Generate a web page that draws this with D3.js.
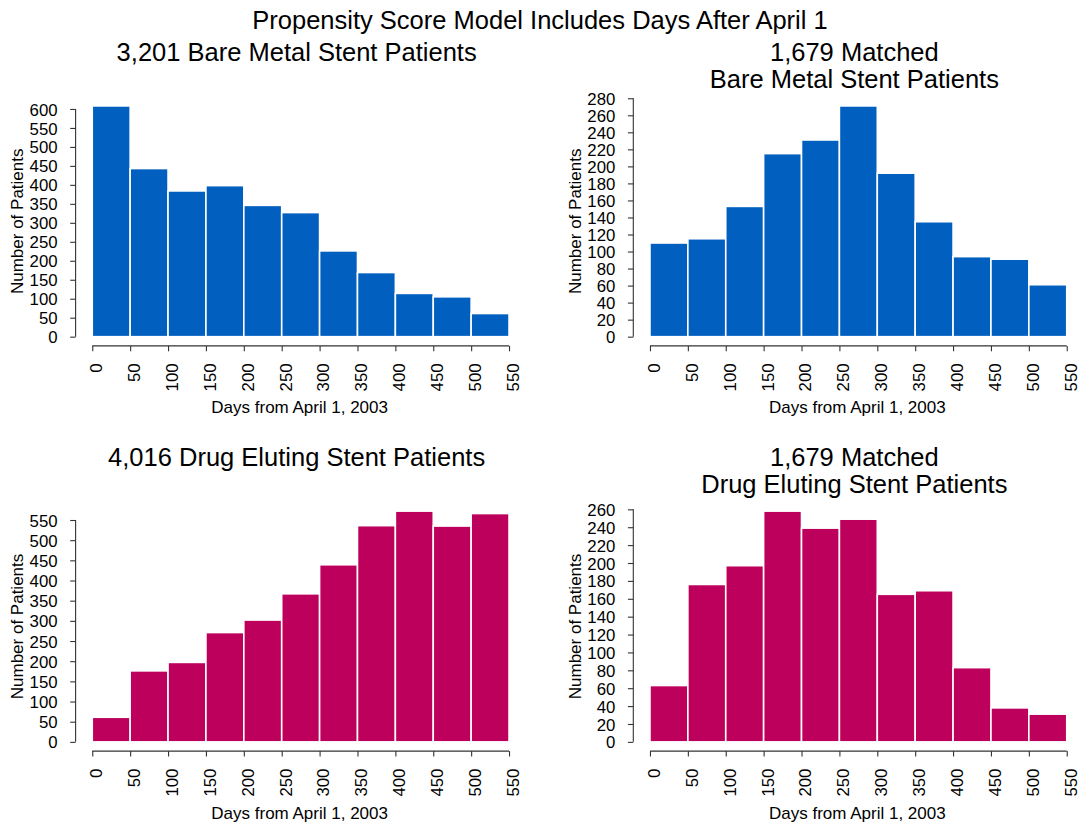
<!DOCTYPE html>
<html><head><meta charset="utf-8">
<script src="https://cdn.jsdelivr.net/npm/d3@7/dist/d3.min.js"></script>
<style>
body{margin:0;background:#fff}
svg{display:block;font-family:"Liberation Sans",Arial,Helvetica,sans-serif}
</style>
</head><body>
<svg id="chart" width="1080" height="826"></svg>
<script>
// ---- data ----
const binEdges = [0, 50, 100, 150, 200, 250, 300, 350, 400, 450, 500, 550];
const bareMetalAll = [608, 443, 384, 398, 346, 327, 226, 169, 114, 105, 61];
const bareMetalMatched = [110, 115, 153, 215, 231, 271, 192, 135, 94, 91, 61];
const drugElutingAll = [61, 176, 197, 271, 302, 367, 439, 536, 572, 535, 566];
const drugElutingMatched = [63, 176, 197, 258, 239, 249, 165, 169, 83, 38, 31];

const xTickLabels = [0, 50, 100, 150, 200, 250, 300, 350, 400, 450, 500, 550];
const yTicksBareAll = [0, 50, 100, 150, 200, 250, 300, 350, 400, 450, 500, 550, 600];
const yTicksBareMatched = [0, 20, 40, 60, 80, 100, 120, 140, 160, 180, 200, 220, 240, 260, 280];
const yTicksDrugAll = [0, 50, 100, 150, 200, 250, 300, 350, 400, 450, 500, 550];
const yTicksDrugMatched = [0, 20, 40, 60, 80, 100, 120, 140, 160, 180, 200, 220, 240, 260];

const mainTitle = "Propensity Score Model Includes Days After April 1";
const titleBareAll = ["3,201 Bare Metal Stent Patients"];
const titleBareMatched = ["1,679 Matched", "Bare Metal Stent Patients"];
const titleDrugAll = ["4,016 Drug Eluting Stent Patients"];
const titleDrugMatched = ["1,679 Matched", "Drug Eluting Stent Patients"];
const xAxisTitle = "Days from April 1, 2003";
const yAxisTitle = "Number of Patients";

// ---- layout ----
const BLUE = "#005FBF", MAGENTA = "#BE005D";
const W = 450.1, H = 249.2;
const TITLE_FS = 25.5, AXIS_FS = 17, TICK_FS = 16.8;
const panels = [
  {left: 75.6, top: 96.7, values: bareMetalAll, yTicks: yTicksBareAll, color: BLUE, title: titleBareAll},
  {left: 633.3, top: 96.7, values: bareMetalMatched, yTicks: yTicksBareMatched, color: BLUE, title: titleBareMatched},
  {left: 75.6, top: 501.9, values: drugElutingAll, yTicks: yTicksDrugAll, color: MAGENTA, title: titleDrugAll},
  {left: 633.3, top: 501.9, values: drugElutingMatched, yTicks: yTicksDrugMatched, color: MAGENTA, title: titleDrugMatched}
];

const svg = d3.select("#chart");

svg.append("text")
  .attr("x", 540).attr("y", 28.5)
  .attr("text-anchor", "middle")
  .attr("font-size", TITLE_FS)
  .attr("fill", "#000")
  .text(mainTitle);

panels.forEach(p => {
  const g = svg.append("g").attr("transform", `translate(${p.left},${p.top})`);
  const e0 = binEdges[0], e1 = binEdges[binEdges.length - 1];
  const span = e1 - e0;
  const x = d3.scaleLinear().domain([e0 - 0.04 * span, e1 + 0.04 * span]).range([0, W]);
  const ymax = d3.max(p.values);
  const y = d3.scaleLinear().domain([-0.04 * ymax, 1.04 * ymax]).range([H, 0]);

  // bars
  g.selectAll("rect.bar").data(p.values).enter().append("rect")
    .attr("class", "bar")
    .attr("x", (d, i) => x(binEdges[i]))
    .attr("width", (d, i) => x(binEdges[i + 1]) - x(binEdges[i]))
    .attr("y", d => y(d))
    .attr("height", d => y(0) - y(d))
    .attr("fill", p.color)
    .attr("stroke", "#ffffff")
    .attr("stroke-width", 1.6);

  // y axis
  const yAxis = d3.axisLeft(y).tickValues(p.yTicks).tickSize(5.4).tickSizeOuter(0).tickPadding(12.6);
  const ya = g.append("g").call(yAxis);
  ya.select(".domain").remove();
  ya.append("line")
    .attr("x1", 0).attr("x2", 0)
    .attr("y1", y(p.yTicks[0])).attr("y2", y(p.yTicks[p.yTicks.length - 1]))
    .attr("stroke", "#333").attr("stroke-width", 1.1);
  ya.selectAll(".tick line").attr("stroke", "#333").attr("stroke-width", 1.1);
  ya.selectAll(".tick text")
    .attr("font-size", TICK_FS)
    .attr("font-family", "'Liberation Sans', Arial, sans-serif")
    .attr("fill", "#000")
    .attr("dy", "0.36em");

  // x axis
  const xAxis = d3.axisBottom(x).tickValues(xTickLabels).tickSize(5.4).tickSizeOuter(0);
  const xa = g.append("g").attr("transform", `translate(0,${H})`).call(xAxis);
  xa.select(".domain").remove();
  xa.append("line")
    .attr("y1", 0).attr("y2", 0)
    .attr("x1", x(xTickLabels[0])).attr("x2", x(xTickLabels[xTickLabels.length - 1]))
    .attr("stroke", "#333").attr("stroke-width", 1.1);
  xa.selectAll(".tick line").attr("stroke", "#333").attr("stroke-width", 1.1);
  xa.selectAll(".tick text")
    .attr("font-size", TICK_FS)
    .attr("font-family", "'Liberation Sans', Arial, sans-serif")
    .attr("fill", "#000")
    .attr("transform", "rotate(-90)")
    .attr("text-anchor", "end")
    .attr("x", -17.5)
    .attr("y", 9.4)
    .attr("dy", 0);

  // axis titles
  g.append("text")
    .attr("x", (x(e0) + x(e1)) / 2 - 1).attr("y", H + 67.5)
    .attr("text-anchor", "middle")
    .attr("font-size", AXIS_FS)
    .text(xAxisTitle);
  g.append("text")
    .attr("transform", `translate(${-52.3},${H / 2}) rotate(-90)`)
    .attr("text-anchor", "middle")
    .attr("font-size", AXIS_FS)
    .text(yAxisTitle);

  // panel title
  const t = g.append("text")
    .attr("text-anchor", "middle")
    .attr("font-size", TITLE_FS);
  p.title.forEach((line, i) => {
    t.append("tspan")
      .attr("x", W / 2 - 4)
      .attr("y", -35.5 + i * 26.5)
      .text(line);
  });
});
</script>
</body></html>
